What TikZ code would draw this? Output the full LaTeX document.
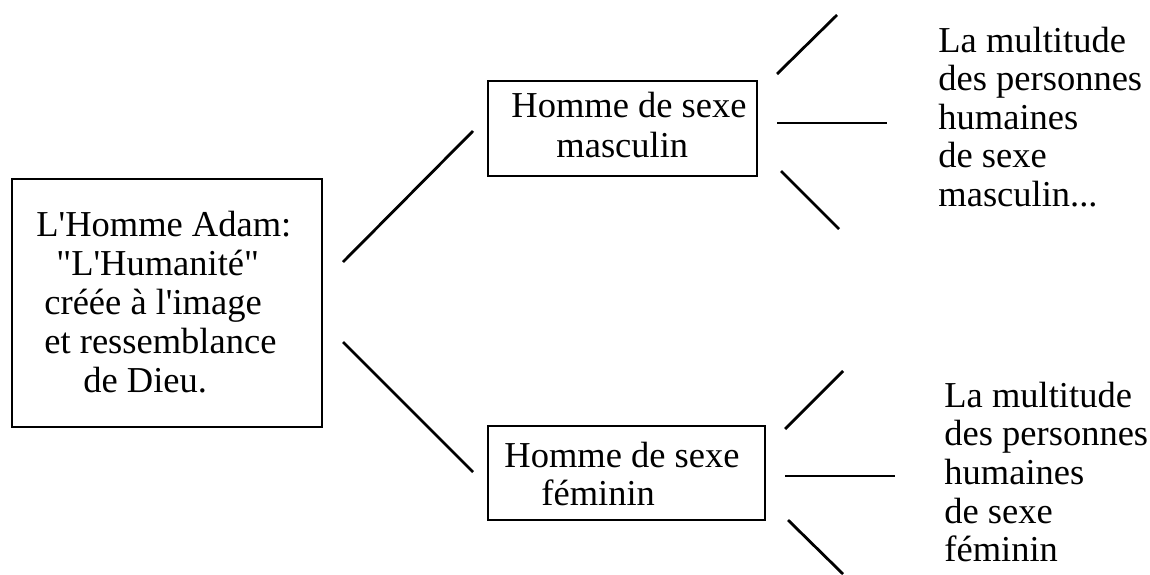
\documentclass[tikz,border=0pt]{standalone}
\usepackage{fontspec}
\newfontfamily\adamfont{Liberation Serif}
\usepackage{tikz}
\usetikzlibrary{positioning}

\begin{document}
\begin{tikzpicture}[
          x=1pt,y=-1pt,
          boite/.style={draw,rectangle,line width=2.6pt,inner sep=0,outer sep=0},
          ligne/.style={anchor=base west,inner sep=0,font=\adamfont\fontsize{36.5}{38}\selectfont},
          every path/.style={line width=2.8pt}
        ]
        \useasboundingbox (0,0) rectangle (1150,574);

        %boxes
        \node[boite,minimum width=310,minimum height=248] (adam) at (167,303) {};
        \node[boite,minimum width=269,minimum height=95] (masc) at (622.5,128.5) {};
        \node[boite,minimum width=277,minimum height=94] (fem) at (626.5,473) {};

        %box texts
        \node[ligne] (adam1) at (35,236) {L'Homme Adam:};
        \node[ligne] (adam2) at (55,275) {"L'Humanité"};
        \node[ligne] (adam3) at (43,314) {créée à l'image};
        \node[ligne] (adam4) at (43,353) {et ressemblance};
        \node[ligne] (adam5) at (82,392) {de Dieu.};
        \node[ligne] (masc1) at (510,117) {Homme de sexe};
        \node[ligne] (masc2) at (555,157) {masculin};
        \node[ligne] (fem1) at (503,467) {Homme de sexe};
        \node[ligne] (fem2) at (540,505) {féminin};

        %multitudes
        \node[ligne] (mult1) at (937,52) {La multitude};
        \node[ligne] (mult2) at (937,90.5) {des personnes};
        \node[ligne] (mult3) at (937,129) {humaines};
        \node[ligne] (mult4) at (937,167.5) {de sexe};
        \node[ligne] (mult5) at (937,206) {masculin...};
        \node[ligne] (multf1) at (943,407) {La multitude};
        \node[ligne] (multf2) at (943,445.7) {des personnes};
        \node[ligne] (multf3) at (943,484.4) {humaines};
        \node[ligne] (multf4) at (943,523) {de sexe};
        \node[ligne] (multf5) at (943,561.8) {féminin};

        %branch ends
        \coordinate (adam-h) at (343,262);
        \coordinate (adam-b) at (343,342);
        \coordinate (masc-g) at (473,131);
        \coordinate (fem-g) at (473,472);
        \coordinate (masc-h) at (777,74);
        \coordinate (masc-m) at (777,123);
        \coordinate (masc-b) at (781,171);
        \coordinate (masc-h2) at (837,15);
        \coordinate (masc-m2) at (887,123);
        \coordinate (masc-b2) at (839,229);
        \coordinate (fem-h) at (785,429);
        \coordinate (fem-m) at (785,476);
        \coordinate (fem-b) at (788,520);
        \coordinate (fem-h2) at (843,371);
        \coordinate (fem-m2) at (895,476);
        \coordinate (fem-b2) at (843,574);

        \draw (adam-h) -- (masc-g);
        \draw (adam-b) -- (fem-g);
        \draw (masc-h) -- (masc-h2);
        \draw (masc-m) -- (masc-m2);
        \draw (masc-b) -- (masc-b2);
        \draw (fem-h) -- (fem-h2);
        \draw (fem-m) -- (fem-m2);
        \draw (fem-b) -- (fem-b2);
    \end{tikzpicture}
\end{document}
